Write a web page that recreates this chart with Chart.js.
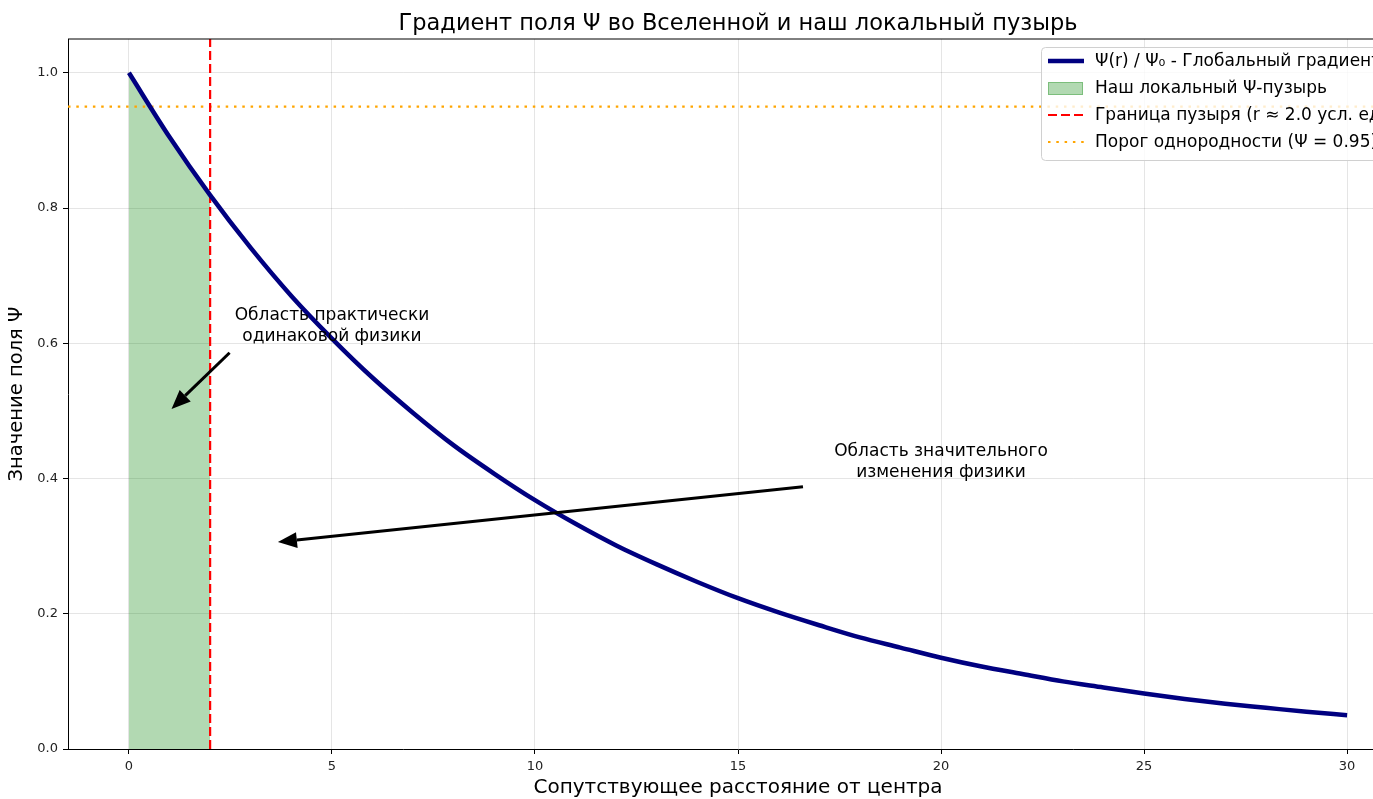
<!DOCTYPE html>
<html>
<head>
<meta charset="utf-8">
<script src="https://cdn.jsdelivr.net/npm/chart.js@4.4.1/dist/chart.umd.min.js"></script>
<style>
  html, body { margin: 0; padding: 0; background: #fff; overflow: hidden; }
  #wrap { position: absolute; left: 0; top: 0; width: 1420px; height: 799px; }
</style>
</head>
<body>
<div id="wrap"><canvas id="my-chart" width="1420" height="799"></canvas></div>
<script>
// values
const rValues = [0, 1, 2, 3, 4, 5, 6, 7, 8, 9, 10, 11, 12, 13, 14, 15, 16, 17, 18, 19, 20, 21, 22, 23, 24, 25, 26, 27, 28, 29, 30];
const psiValues = [1.0, 0.905, 0.819, 0.741, 0.670, 0.607, 0.549, 0.497, 0.449, 0.407, 0.368, 0.333, 0.301, 0.273, 0.247, 0.223, 0.202, 0.183, 0.165, 0.150, 0.135, 0.122, 0.111, 0.100, 0.091, 0.082, 0.074, 0.067, 0.061, 0.055, 0.050];
const bubbleR = [0, 0.5, 1, 1.5, 2];
const bubblePsi = [1.0, 0.951, 0.905, 0.861, 0.819];
const bubbleEdge = 2.0;
const threshold = 0.95;
const xTicks = [0, 5, 10, 15, 20, 25, 30];
const yTicks = [0.0, 0.2, 0.4, 0.6, 0.8, 1.0];

const labels = [
    'Ψ(r) / Ψ₀ - Глобальный градиент',
    'Наш локальный Ψ-пузырь',
    'Граница пузыря (r ≈ 2.0 усл. ед.)',
    'Порог однородности (Ψ = 0.95)'
];

const font = 'DejaVu Sans';

const toXY = (xs, ys) => xs.map((v, i) => ({ x: v, y: ys[i] }));

const data = {
    datasets: [
        {
            label: labels[0],
            data: toXY(rValues, psiValues),
            borderColor: '#000080',
            borderWidth: 4.5,
            pointRadius: 0,
            cubicInterpolationMode: 'monotone',
            fill: false,
            order: 1
        },
        {
            label: labels[1],
            data: toXY(bubbleR, bubblePsi),
            borderColor: 'rgba(0,128,0,0.3)',
            backgroundColor: 'rgba(0,128,0,0.3)',
            borderWidth: 1,
            pointRadius: 0,
            cubicInterpolationMode: 'monotone',
            fill: 'origin',
            order: 3
        },
        {
            label: labels[2],
            data: [{ x: bubbleEdge, y: 0 }, { x: bubbleEdge, y: 1.05 }],
            borderColor: 'red',
            borderWidth: 2.2,
            borderDash: [9, 4],
            pointRadius: 0,
            fill: false,
            order: 2
        },
        {
            label: labels[3],
            data: [{ x: -1.5, y: threshold }, { x: 31.5, y: threshold }],
            borderColor: 'orange',
            borderWidth: 2.2,
            borderDash: [2.5, 5.8],
            pointRadius: 0,
            fill: false,
            order: 2
        }
    ]
};

function arrow(ctx, x1, y1, x2, y2) {
    const ang = Math.atan2(y2 - y1, x2 - x1);
    const hl = 19, hw = 8;
    const bx = x2 - hl * Math.cos(ang), by = y2 - hl * Math.sin(ang);
    ctx.save();
    ctx.strokeStyle = '#000';
    ctx.fillStyle = '#000';
    ctx.lineWidth = 3;
    ctx.beginPath();
    ctx.moveTo(x1, y1);
    ctx.lineTo(bx, by);
    ctx.stroke();
    ctx.beginPath();
    ctx.moveTo(x2, y2);
    ctx.lineTo(bx + hw * Math.sin(ang), by - hw * Math.cos(ang));
    ctx.lineTo(bx - hw * Math.sin(ang), by + hw * Math.cos(ang));
    ctx.closePath();
    ctx.fill();
    ctx.restore();
}

const extras = {
    id: 'extras',
    afterDatasetsDraw(chart) {
        const { ctx, chartArea: a, scales: { x, y } } = chart;
        ctx.save();
        // top spine
        ctx.strokeStyle = '#000';
        ctx.lineWidth = 1;
        ctx.beginPath();
        ctx.moveTo(a.left, a.top);
        ctx.lineTo(a.right, a.top);
        ctx.stroke();

        // annotations
        arrow(ctx, x.getPixelForValue(2.48), y.getPixelForValue(0.586), x.getPixelForValue(1.05), y.getPixelForValue(0.503));
        arrow(ctx, x.getPixelForValue(16.6), y.getPixelForValue(0.388), x.getPixelForValue(3.67), y.getPixelForValue(0.306));

        ctx.fillStyle = '#000';
        ctx.font = '17px "' + font + '"';
        ctx.textAlign = 'center';
        ctx.textBaseline = 'middle';
        let tx = x.getPixelForValue(5.0), ty = y.getPixelForValue(0.625);
        ctx.fillText('Область практически', tx, ty - 10.5);
        ctx.fillText('одинаковой физики', tx, ty + 10.5);
        tx = x.getPixelForValue(20.0); ty = y.getPixelForValue(0.425);
        ctx.fillText('Область значительного', tx, ty - 10.5);
        ctx.fillText('изменения физики', tx, ty + 10.5);

        // legend
        const lx = 1041, ly = 47, lw = 370, lh = 113;
        ctx.fillStyle = 'rgba(255,255,255,0.8)';
        ctx.strokeStyle = '#d0d0d0';
        ctx.lineWidth = 1;
        ctx.beginPath();
        ctx.roundRect(lx + 0.5, ly + 0.5, lw, lh, 4);
        ctx.fill();
        ctx.stroke();
        const rows = [61, 88, 115, 142];
        const ds = chart.data.datasets;
        rows.forEach((ry, i) => {
            const d = ds[i];
            ctx.save();
            if (i === 1) {
                ctx.fillStyle = d.backgroundColor;
                ctx.fillRect(1048, ry - 6, 35, 13);
                ctx.strokeStyle = 'rgba(0,128,0,0.3)';
                ctx.strokeRect(1048.5, ry - 5.5, 34, 12);
            } else {
                ctx.strokeStyle = d.borderColor;
                ctx.lineWidth = i === 0 ? 4.5 : 2.2;
                ctx.setLineDash(d.borderDash || []);
                ctx.beginPath();
                ctx.moveTo(1048, ry);
                ctx.lineTo(1084, ry);
                ctx.stroke();
            }
            ctx.restore();
            ctx.fillStyle = '#000';
            ctx.font = '17px "' + font + '"';
            ctx.textAlign = 'left';
            ctx.textBaseline = 'middle';
            ctx.fillText(d.label, 1095, ry + 1);
        });

        // title
        ctx.fillStyle = '#000';
        ctx.font = '22.5px "' + font + '"';
        ctx.textAlign = 'center';
        ctx.textBaseline = 'middle';
        ctx.fillText('Градиент поля Ψ во Вселенной и наш локальный пузырь', (a.left + a.right) / 2, 24);
        ctx.restore();
    }
};

const ctxMain = document.getElementById('my-chart').getContext('2d');
const myChart = new Chart(ctxMain, {
    type: 'line',
    data: data,
    options: {
        responsive: false,
        animation: false,
        layout: { padding: { top: 39, right: 12, left: 0, bottom: 0 } },
        plugins: {
            legend: { display: false },
            tooltip: { enabled: false },
            title: { display: false }
        },
        scales: {
            x: {
                type: 'linear',
                min: -1.5,
                max: 31.5,
                afterFit: s => { s.height = 50; },
                afterBuildTicks: s => { s.ticks = xTicks.map(v => ({ value: v })); },
                grid: { color: 'rgba(0,0,0,0.1)', tickColor: '#000', tickLength: 5, drawOnChartArea: true },
                border: { color: '#000', width: 1 },
                ticks: { color: '#222', font: { family: font, size: 13 }, padding: 5, callback: v => String(v) },
                title: { display: true, text: 'Сопутствующее расстояние от центра', color: '#000', font: { family: font, size: 20 }, padding: { top: 0, bottom: -1 } }
            },
            y: {
                type: 'linear',
                min: 0,
                max: 1.05,
                afterFit: s => { s.width = 68; },
                afterBuildTicks: s => { s.ticks = yTicks.map(v => ({ value: v })); },
                grid: { color: 'rgba(0,0,0,0.1)', tickColor: '#000', tickLength: 5 },
                border: { color: '#000', width: 1 },
                ticks: { color: '#222', font: { family: font, size: 13 }, padding: 5, callback: v => v.toFixed(1) },
                title: { display: true, text: 'Значение поля Ψ', color: '#000', font: { family: font, size: 19.5 }, padding: { top: 5, bottom: 0 } }
            }
        }
    },
    plugins: [extras]
});
</script>
</body>
</html>
